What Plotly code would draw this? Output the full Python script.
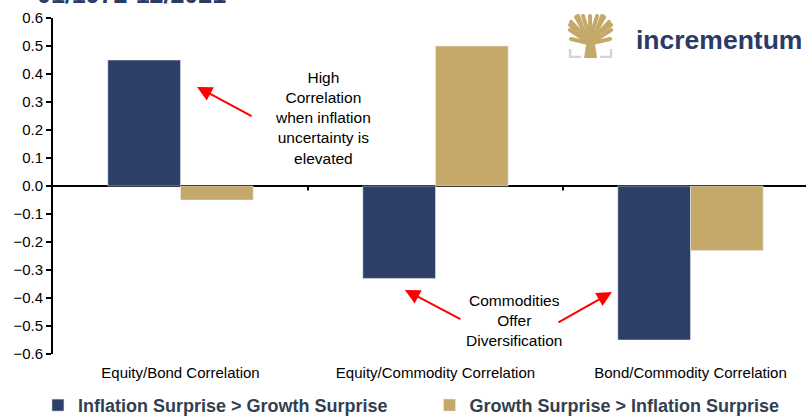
import base64
import plotly.graph_objects as go

categories = ['Equity/Bond Correlation', 'Equity/Commodity Correlation', 'Bond/Commodity Correlation']
inflation_surprise = [0.45, -0.33, -0.55]
growth_surprise = [-0.05, 0.50, -0.23]
y_ticks = [0.6, 0.5, 0.4, 0.3, 0.2, 0.1, 0.0, -0.1, -0.2, -0.3, -0.4, -0.5, -0.6]

BLUE = '#2e3f67'
GOLD = '#c4a96a'
FONT = 'Arial, Liberation Sans, sans-serif'

# small tree logo as inline svg
tree_svg = """<svg xmlns='http://www.w3.org/2000/svg' viewBox='0 0 45 45'>
<g stroke='#c4a96a' stroke-width='4' fill='none' stroke-linecap='round'>
<path d='M22 32 L22 3'/><path d='M22 26 L15 3'/><path d='M22 26 L29 3'/>
<path d='M21 27 L8 4'/><path d='M23 27 L36 4'/><path d='M21 28 L3 9'/>
<path d='M23 28 L41 9'/><path d='M20 29 L2 17'/><path d='M24 29 L43 17'/>
<path d='M20 30 L3 26'/><path d='M24 30 L42 26'/>
<path d='M14 14 L10 3'/><path d='M30 14 L34 3'/><path d='M11 19 L2 12'/><path d='M33 19 L43 12'/>
</g>
<path d='M16 45 L29 45 L26 25 L19 25 Z' fill='#c4a96a'/>
<path d='M2 36 L2 44 L13 44' stroke='#d4d4d4' stroke-width='2.4' fill='none'/>
<path d='M43 36 L43 44 L32 44' stroke='#d4d4d4' stroke-width='2.4' fill='none'/>
</svg>"""
logo_src = 'data:image/svg+xml;base64,' + base64.b64encode(tree_svg.encode()).decode()

fig = go.Figure(data=[
    go.Bar(name='Inflation Surprise > Growth Surprise', x=categories, y=inflation_surprise,
           marker_color=BLUE, legend='legend'),
    go.Bar(name='Growth Surprise > Inflation Surprise', x=categories, y=growth_surprise,
           marker_color=GOLD, legend='legend2'),
])

legend_font = dict(family=FONT, size=18, color='#333f50', weight='bold')
fig.update_layout(
    width=806, height=416,
    margin=dict(l=53, r=0, t=18, b=62, autoexpand=False),
    barmode='group', bargap=0.43, bargroupgap=0,
    plot_bgcolor='white', paper_bgcolor='white',
    font=dict(family=FONT, color='black'),
    showlegend=True,
    legend=dict(orientation='h', x=-0.02, xanchor='left', y=-0.153, yanchor='middle',
                font=legend_font, itemwidth=30),
    legend2=dict(orientation='h', x=0.5, xanchor='left', y=-0.153, yanchor='middle',
                 font=legend_font, itemwidth=30),
)
fig.update_xaxes(
    range=[-0.5, 2.453], showline=False, showgrid=False, ticks='', automargin=False,
    tickfont=dict(size=15, family=FONT), ticklabelstandoff=8,
)
fig.update_yaxes(
    range=[-0.6, 0.6], tickvals=y_ticks, tickformat='.1f', automargin=False,
    showline=True, linecolor='black', linewidth=2,
    ticks='outside', ticklen=5, tickwidth=2, tickcolor='black',
    showgrid=False, zeroline=True, zerolinecolor='black', zerolinewidth=2,
    tickfont=dict(size=15, family=FONT),
)

# tick marks between categories on the zero line
for xb in [0.5, 1.5]:
    fig.add_shape(type='line', x0=xb, x1=xb, y0=0, y1=-0.016, xref='x', yref='y',
                  line=dict(color='black', width=2))

# text callouts
fig.add_annotation(x=0.559, y=0.243, xref='x', yref='y', showarrow=False,
                   text='High<br>Correlation<br>when inflation<br>uncertainty is<br>elevated',
                   font=dict(size=15.5, family=FONT), align='center')
fig.add_annotation(x=1.308, y=-0.482, xref='x', yref='y', showarrow=False,
                   text='Commodities<br>Offer<br>Diversification',
                   font=dict(size=15.5, family=FONT), align='center')
for hx, hy, ax, ay in [(0.065, 0.354, 56, 30), (0.88, -0.371, 57, 30), (1.692, -0.379, -55, 31)]:
    fig.add_annotation(x=hx, y=hy, xref='x', yref='y', text='', showarrow=True,
                       ax=ax, ay=ay, arrowhead=2, arrowsize=1.5, arrowwidth=2, arrowcolor='red')

# title line, cut off at the top of the page
fig.add_annotation(x=0.0, y=1, xref='paper', yref='paper', xanchor='left', yanchor='bottom',
                   xshift=-18, yshift=8, showarrow=False, text='01/1972-12/2021',
                   font=dict(size=25, family=FONT, color='#2b3a66', weight='bold'))

# logo
fig.add_layout_image(source=logo_src, xref='paper', yref='paper', x=0.684, y=1.015,
                     sizex=0.0598, sizey=0.134, xanchor='left', yanchor='top',
                     sizing='stretch', layer='above')
fig.add_annotation(x=0.772, y=0.9345, xref='paper', yref='paper', xanchor='left', yanchor='middle',
                   showarrow=False, text='incrementum',
                   font=dict(size=26.5, family=FONT, color='#2b3a66', weight='bold'))

fig.write_html('out.html', config={'displayModeBar': False},
               post_script="document.body.style.margin='0px';")
